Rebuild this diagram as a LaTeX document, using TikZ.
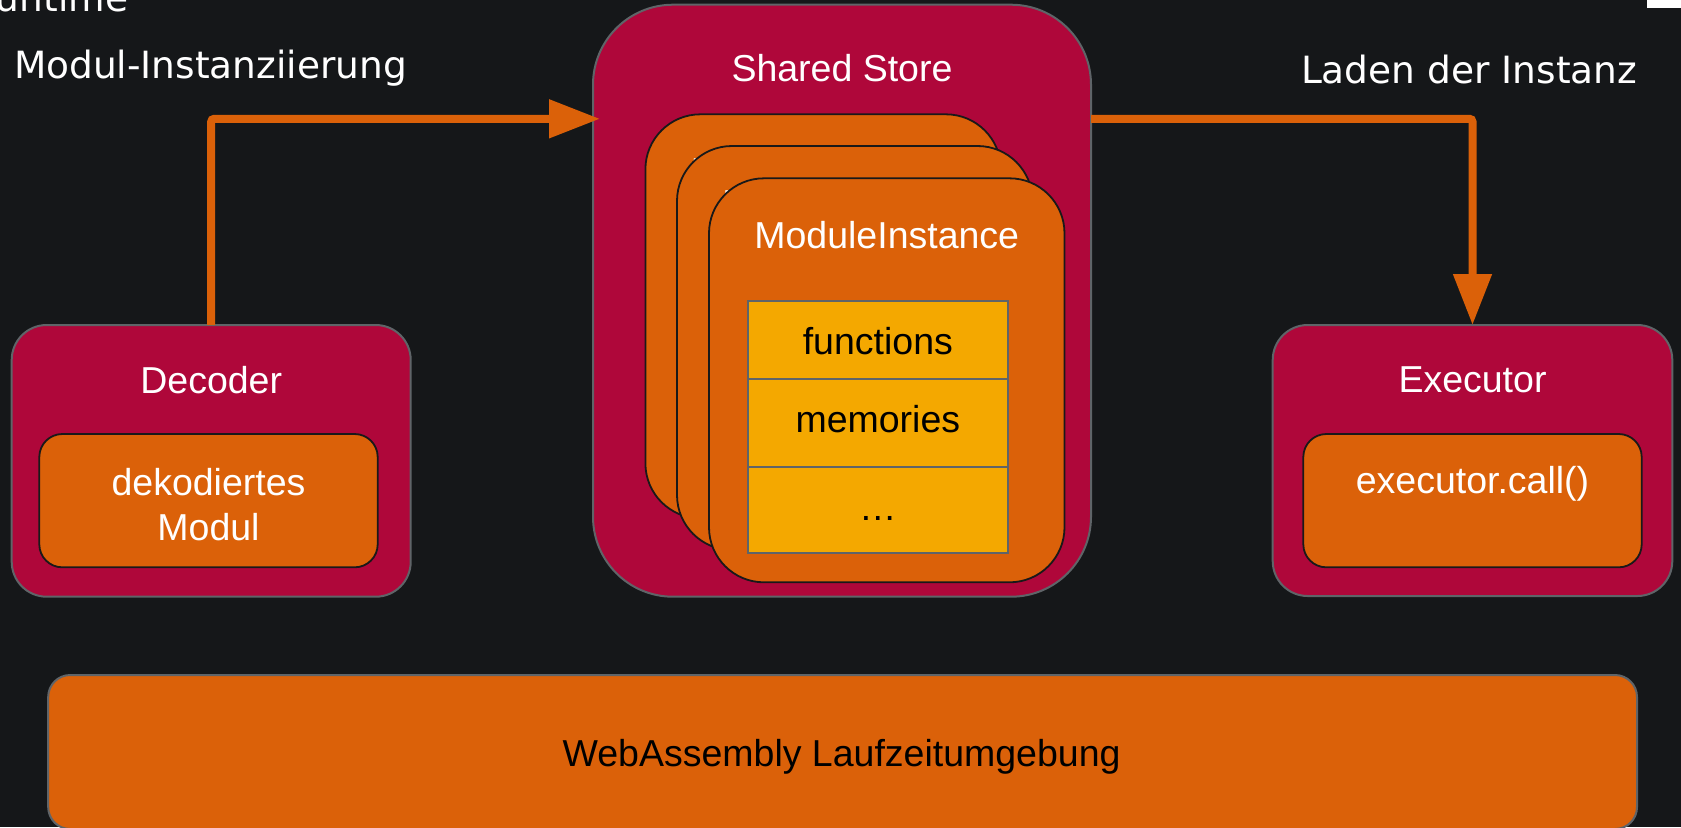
\documentclass[tikz,border=0pt]{standalone}
\usepackage{fontspec}
\setmainfont{Liberation Sans}
\newfontfamily\labelfont{DejaVu Sans}
\usetikzlibrary{arrows.meta,calc}
\definecolor{bg}{HTML}{151719}
\definecolor{crimson}{HTML}{AF073A}
\definecolor{rust}{HTML}{DB6109}
\definecolor{amber}{HTML}{F4A800}
\definecolor{edge}{HTML}{5F6468}
\begin{document}
\begin{tikzpicture}[x=0.5pt,y=-0.5pt,
  every node/.style={inner sep=0pt, outer sep=0pt},
  txt/.style={font=\fontsize{18.75}{22.5}\selectfont, anchor=base, text=white},
  side/.style={font=\labelfont\fontsize{18.75}{22.5}\selectfont, text=white},
  outerbox/.style={draw=edge, line width=1pt, fill=crimson, rectangle},
  innerbox/.style={draw=black!90, line width=0.9pt, fill=rust, rectangle},
  cardbox/.style={innerbox, minimum width=355.5*0.5pt, minimum height=404*0.5pt, rounded corners=27.5pt},
  cell/.style={draw=edge, line width=1pt, fill=amber, rectangle, minimum width=259.7*0.5pt},
  flow/.style={draw=rust, line width=4pt, rounded corners=1.5pt, -{Triangle[width=18.5pt,length=25.5pt]}},
]
% canvas
\fill[bg] (0,0) rectangle (1681,827);
\clip (0,0) rectangle (1681,827);
\useasboundingbox (0,0) rectangle (1681,827);

% headings
\node[side, anchor=base west] (title) at (-4,11.7) {untime};
\fill[white] (1647,0) rectangle (1681,8.3);
\node[side, anchor=base west] (instlbl) at (14,78.3) {Modul-Instanziierung};
\node[side, anchor=base east] (loadlbl) at (1637.2,83.3) {Laden der Instanz};

% decoder
\node[outerbox, minimum width=399*0.5pt, minimum height=271.7*0.5pt, rounded corners=17.5pt] (dec) at (211.2,460.85) {};
\node[txt] (dectitle) at (211.2,393) {Decoder};
\node[innerbox, minimum width=338.4*0.5pt, minimum height=133.3*0.5pt, rounded corners=11.5pt] (decin) at (208.5,500.65) {};
\node[txt] (decmod) at (208.5,495) {\begin{tabular}[t]{@{}c@{}}dekodiertes\\Modul\end{tabular}};

% executor
\node[outerbox, minimum width=399.6*0.5pt, minimum height=271*0.5pt, rounded corners=17.5pt] (exe) at (1472.5,460.5) {};
\node[txt] (exetitle) at (1472.5,392.7) {Executor};
\node[innerbox, minimum width=338.4*0.5pt, minimum height=133.3*0.5pt, rounded corners=11.5pt] (exein) at (1472.5,500.65) {};
\node[txt] (execall) at (1472.5,493) {executor.call()};

% shared store with stacked instances
\node[outerbox, minimum width=498*0.5pt, minimum height=592*0.5pt, rounded corners=40pt] (store) at (842,300.7) {};
\node[txt] (storetitle) at (842,81.7) {Shared Store};
\node[cardbox] (card1) at (823.15,316.3) {};
\node[txt] (card1lbl) at (823.15,184.3) {ModuleInstance};
\node[cardbox] (card2) at (854.75,348) {};
\node[txt] (card2lbl) at (854.75,216) {ModuleInstance};
\node[cardbox] (card3) at (886.75,380.3) {};
\node[txt] (card3lbl) at (886.75,248.3) {ModuleInstance};

% fields of the front instance
\node[cell, minimum height=78*0.5pt] (fun) at (877.85,340) {};
\node[txt, text=black] (funlbl) at (877.85,354) {functions};
\node[cell, minimum height=88.3*0.5pt] (mem) at (877.85,423.15) {};
\node[txt, text=black] (memlbl) at (877.85,432.7) {memories};
\node[cell, minimum height=85.4*0.5pt] (etc) at (877.85,510) {};
\node[txt, text=black] (etclbl) at (877.85,520.7) {…};

% flows
\coordinate (lane) at (0,118.8);
\draw[flow] (dec.north) |- ($(store.west |- lane)+(7,0)$);
\draw[flow] (store.east |- lane) -| (exe.north);

% runtime bar
\node[draw=edge, line width=1pt, fill=rust, rectangle, minimum width=1588.8*0.5pt, minimum height=154*0.5pt, rounded corners=11pt] (runtime) at (842.6,752) {};
\node[txt, text=black] (runtimelbl) at (841.6,766) {WebAssembly Laufzeitumgebung};
\end{tikzpicture}
\end{document}
